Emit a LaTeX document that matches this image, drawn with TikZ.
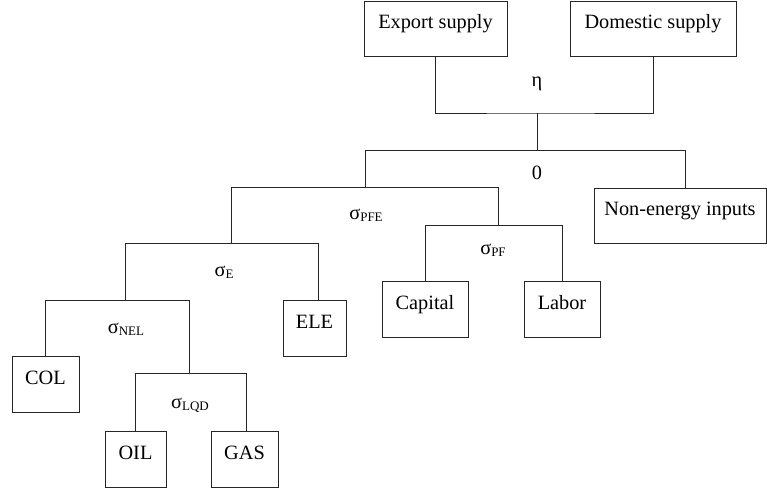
\documentclass[tikz,border=0pt]{standalone}
\usepackage{fontspec}
\setmainfont{Liberation Serif}
\newcommand{\sub}[1]{\raisebox{-2pt}{\fontsize{13}{13}\selectfont #1}}
\begin{document}
\begin{tikzpicture}[x=1pt,y=-1pt,
  every node/.style={font=\fontsize{20.3}{24}\selectfont},
  box/.style={draw=black!85, line width=0.9pt, inner sep=0pt, text height=10pt, text depth=10pt, minimum height=55pt},
  conn/.style={draw=black!85, line width=0.9pt},
  lab/.style={anchor=base, inner sep=0pt}]
\useasboundingbox (0,0) rectangle (767,494);
% boxes
\node[box, minimum width=143pt] (exp) at (435.5,28.5) {Export supply};
\node[box, minimum width=166pt] (dom) at (653,28.5) {Domestic supply};
\node[box, minimum width=172pt] (non) at (680,215.5) {Non-energy inputs};
\node[box, minimum width=86pt, minimum height=56pt] (cap) at (425,309) {Capital};
\node[box, minimum width=76pt, minimum height=56pt] (lab) at (562,309) {Labor};
\node[box, minimum width=63pt, minimum height=56pt] (ele) at (314.5,328) {ELE};
\node[box, minimum width=67pt, minimum height=56pt] (col) at (45.5,384) {COL};
\node[box, minimum width=61pt, minimum height=56pt] (oil) at (135.5,459) {OIL};
\node[box, minimum width=67pt, minimum height=56pt] (gas) at (244.5,459) {GAS};
% junctions
\coordinate (j1) at (537,113);
\coordinate (j2) at (537,150);
\coordinate (jP) at (365,187);
\coordinate (jE) at (231,243);
\coordinate (jF) at (498,225);
\coordinate (jN) at (125,300);
\coordinate (jL) at (189,373);
% connectors
\draw[conn] (exp.south) |- (j1) -| (dom.south);
\draw[conn] (j1) -- (j2);
\draw[conn] (j2) -| (jP);
\draw[conn] (j2) -| ([xshift=5pt]non.north);
\draw[conn] (jP) -| (jE);
\draw[conn] (jP) -| (jF);
\draw[conn] (jE) -| (jN);
\draw[conn] (jE) -| ([xshift=3.5pt]ele.north);
\draw[conn] (jN) -| (col.north);
\draw[conn] (jN) -| (jL);
\draw[conn] (jL) -| (oil.north);
\draw[conn] (jL) -| ([xshift=1.5pt]gas.north);
\draw[conn] (jF) -| (cap.north);
\draw[conn] (jF) -| (lab.north);
% labels
\node[lab] (leta) at (537,87) {η};
\node[lab] (lzero) at (537,180) {0};
\node[lab] (lpfe) at (366,219) {σ\sub{PFE}};
\node[lab] (lE) at (224,276) {σ\sub{E}};
\node[lab] (lnel) at (126,333) {σ\sub{NEL}};
\node[lab] (llqd) at (190,408) {σ\sub{LQD}};
\node[lab] (lpf) at (493,254) {σ\sub{PF}};
\end{tikzpicture}
\end{document}
